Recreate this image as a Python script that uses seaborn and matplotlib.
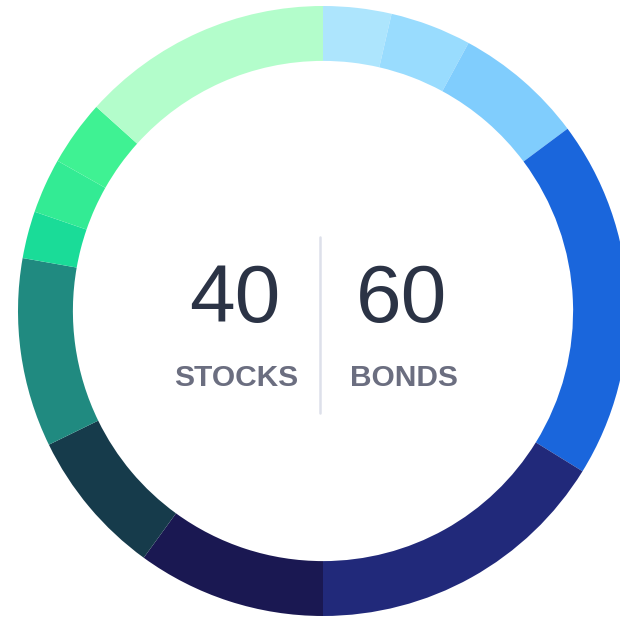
import matplotlib
matplotlib.use("Agg")
import matplotlib.pyplot as plt
import seaborn as sns
from matplotlib.lines import Line2D

# holdings, clockwise from 12 o'clock (share of the ring, in degrees)
segments = ["bond_1", "bond_2", "bond_3", "bond_4", "bond_5",
            "stock_1", "stock_2", "stock_3", "stock_4", "stock_5", "stock_6", "stock_7"]
sizes = [13.0, 15.5, 24.8, 68.4, 58.3, 36.0, 28.0, 36.0, 9.0, 10.5, 12.5, 48.0]
colors = ["#ade5fd", "#99dcfe", "#80cdfd", "#1a66dc", "#21297a",
          "#1a1852", "#163b4b", "#208a80", "#1adc98", "#33eb94", "#3ff293", "#b3fdcb"]

totals = ["40", "60"]
total_labels = ["STOCKS", "BONDS"]

sns.set_style("white")
plt.rcParams['font.family'] = ['Liberation Sans', 'DejaVu Sans']

fig = plt.figure(figsize=(6.2, 6.21), dpi=100)
ax = fig.add_axes([0, 0, 1, 1])

palette = sns.color_palette(colors)
ax.pie(sizes, colors=palette, startangle=90, counterclock=False,
       radius=1.0, wedgeprops=dict(width=0.18, linewidth=0))

# place the ring centre at pixel (323, 311)
ax.set_xlim(-323 / 305, (620 - 323) / 305)
ax.set_ylim(-(621 - 311) / 305, 311 / 305)
ax.set_aspect("equal")
ax.axis("off")

# centre text
for x_num, x_lab, num, lab in zip([0.378, 0.648], [0.381, 0.652], totals, total_labels):
    fig.text(x_num, 0.4815, num, ha="center", va="baseline", fontsize=59,
             color="#2b3345")
    fig.text(x_lab, 0.379, lab, ha="center", va="baseline", fontsize=21.5,
             color="#6b6e80", fontweight="bold")

fig.add_artist(Line2D([0.516, 0.516], [0.335, 0.618], transform=fig.transFigure,
                      color="#dde0ea", linewidth=1.8))

fig.savefig("out.png", dpi=100, facecolor="white")
